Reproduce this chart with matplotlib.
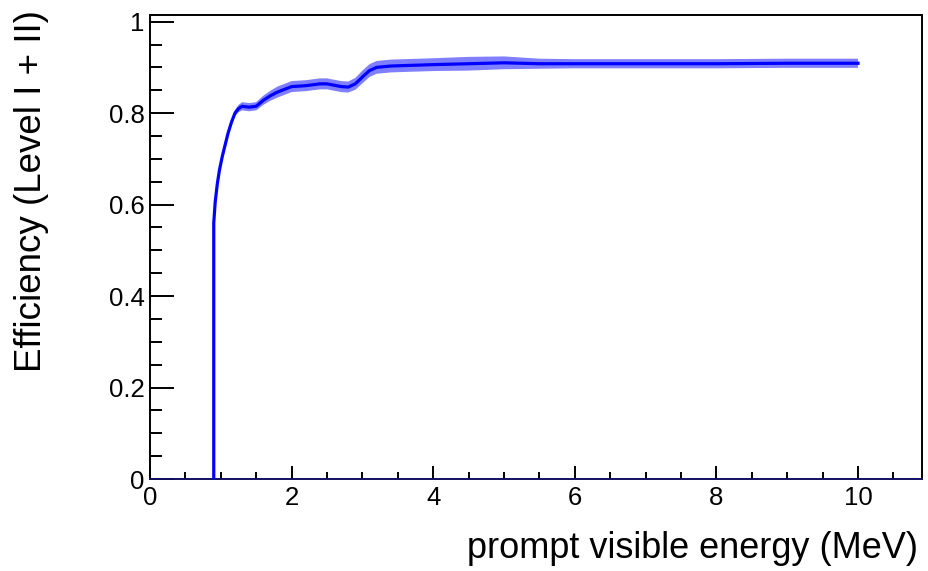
import numpy as np
import matplotlib
matplotlib.use('Agg')
import matplotlib.pyplot as plt
from matplotlib.ticker import MultipleLocator

plt.rcParams['font.family'] = ['Liberation Sans', 'DejaVu Sans']

# efficiency curve
energy = [0.90, 0.90, 0.92, 0.95, 0.98, 1.02, 1.06, 1.10, 1.15, 1.20, 1.25,
          1.30, 1.40, 1.50, 1.60, 1.70, 1.80, 1.90, 2.00, 2.10, 2.20, 2.30,
          2.40, 2.50, 2.60, 2.70, 2.80, 2.90, 3.00, 3.10, 3.20, 3.40, 3.60,
          3.80, 4.00, 4.50, 5.00, 5.50, 6.00, 7.00, 8.00, 9.00, 10.00]
eff = [0.0, 0.56, 0.605, 0.645, 0.675, 0.705, 0.73, 0.755, 0.78, 0.80, 0.81,
       0.815, 0.813, 0.815, 0.828, 0.838, 0.846, 0.852, 0.858, 0.859, 0.860,
       0.862, 0.864, 0.864, 0.861, 0.858, 0.857, 0.864, 0.879, 0.893, 0.900,
       0.903, 0.904, 0.905, 0.906, 0.908, 0.910, 0.908, 0.908, 0.908, 0.908,
       0.909, 0.909]
err = [0.0, 0.004, 0.004, 0.005, 0.005, 0.005, 0.005, 0.005, 0.006, 0.007,
       0.008, 0.009, 0.009, 0.009, 0.010, 0.011, 0.012, 0.012, 0.012, 0.012,
       0.012, 0.012, 0.012, 0.012, 0.012, 0.012, 0.012, 0.013, 0.014, 0.014,
       0.014, 0.014, 0.014, 0.014, 0.014, 0.015, 0.014, 0.011, 0.010, 0.010,
       0.010, 0.010, 0.010]

energy = np.array(energy)
eff = np.array(eff)
err = np.array(err)

fig = plt.figure(figsize=(9.29, 5.71), dpi=100)
ax = fig.add_axes([0.1615, 0.1611, 0.8310, 0.8126])

ax.fill_between(energy[1:], (eff - err)[1:], (eff + err)[1:],
                facecolor=(0.5, 0.5, 1.0), edgecolor='none', zorder=2)
ax.plot(energy, eff, color=(0, 0, 1), lw=2.3, zorder=3, solid_joinstyle='round')

ax.set_xlim(0, 10.904)
ax.set_ylim(0, 1.0145)

for s in ['left', 'right', 'top', 'bottom']:
    ax.spines[s].set_linewidth(1.4)
    ax.spines[s].set_color('black')
ax.spines['bottom'].set_color('#101060')

ax.xaxis.set_minor_locator(MultipleLocator(0.5))
ax.yaxis.set_minor_locator(MultipleLocator(0.05))
ax.set_yticks([0, 0.2, 0.4, 0.6, 0.8, 1.0])
ax.set_yticklabels(['0', '0.2', '0.4', '0.6', '0.8', '1'])
ax.set_xticks([0, 2, 4, 6, 8, 10])
ax.set_xticklabels(['0', '2', '4', '6', '8', '10'])

ax.tick_params(axis='y', which='major', direction='in', length=17, width=1.4,
               labelsize=18.5, pad=4)
ax.tick_params(axis='y', which='minor', direction='in', length=8.5, width=1.4)
ax.tick_params(axis='x', which='major', direction='in', length=9.5, width=1.4,
               labelsize=18.5, pad=5)
ax.tick_params(axis='x', which='minor', direction='in', length=5, width=1.4)

fig.text(0.988, 0.022, 'prompt visible energy (MeV)', ha='right', va='baseline',
         fontsize=26)
fig.text(0.034, 0.983, 'Efficiency (Level I + II)', ha='center', va='top',
         rotation=90, fontsize=26.5)

fig.savefig('out.png', dpi=100)
